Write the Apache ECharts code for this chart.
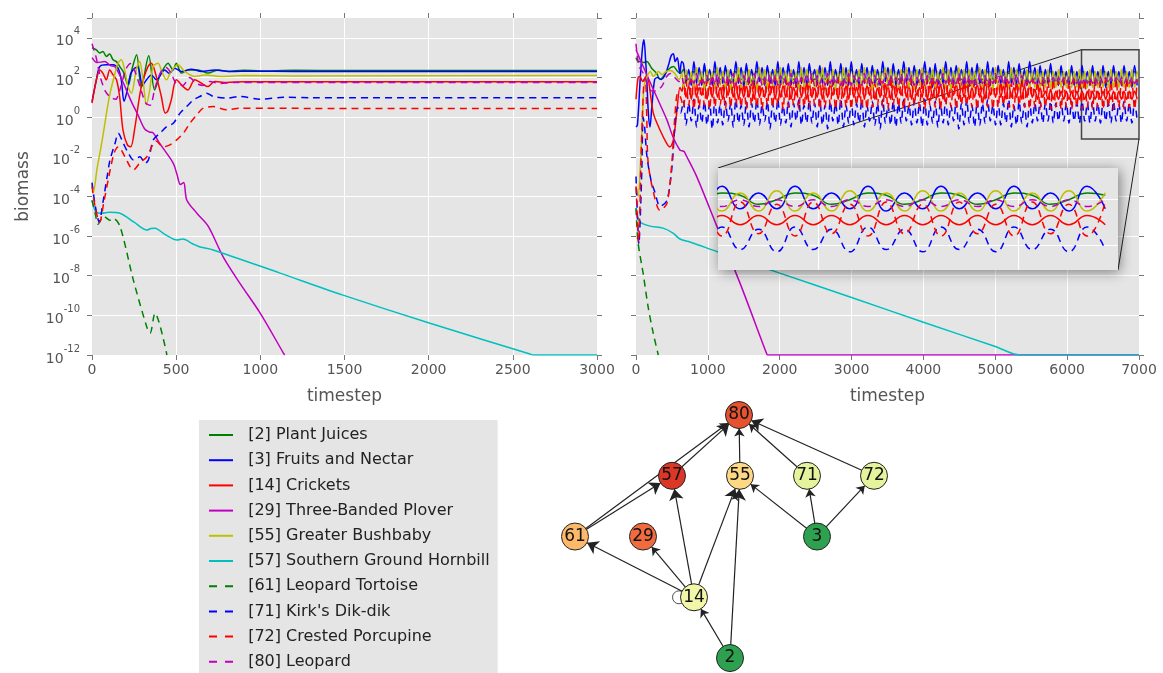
<!DOCTYPE html>
<html>
<head>
<meta charset="utf-8">
<script src="https://cdn.jsdelivr.net/npm/echarts@6/dist/echarts.min.js"></script>
<style>
  html, body { margin: 0; padding: 0; background: #fff; }
  #chart { width: 1163px; height: 673px; }
</style>
</head>
<body>
<div id="chart"></div>
<script>
// species, in legend order
const names = ['[2] Plant Juices', '[3] Fruits and Nectar', '[14] Crickets', '[29] Three-Banded Plover',
  '[55] Greater Bushbaby', '[57] Southern Ground Hornbill', '[61] Leopard Tortoise', "[71] Kirk's Dik-dik",
  '[72] Crested Porcupine', '[80] Leopard'];
const colors = ['#008000', '#0000ff', '#ff0000', '#bf00bf', '#bfbf00', '#00bfbf', '#008000', '#0000ff', '#ff0000', '#bf00bf'];
const dashed = [false, false, false, false, false, false, true, true, true, true];

// biomass values are log10 exponents, [timestep, log10(biomass)]
// ---- left run, 0..3000
const lGreen = [[0,3.5],[26,3.39],[46,3.23],[65,3.31],[85,3.06],[105,3.19],[125,2.89],[145,2.8],[165,2.55],[185,2.3],[215,1.6],[240,2.5],[265,3.14],[293,1.5],[337,3.09],[372,1.37],[402,2.05],[452,2.72],[481,2.38],[501,2.72],[531,2.22],[570,2.38],[630,2.38],[689,2.22],[749,2.38],[808,2.3],[900,2.37],[1000,2.33],[1200,2.36],[1500,2.35],[3000,2.35]];
const lBlue = [[0,0.78],[26,1.88],[46,2.55],[85,2.64],[125,2.64],[155,2.47],[174,1.88],[190,0.8],[205,1.2],[230,2.2],[254,2.47],[273,2.52],[300,1.6],[325,1.9],[353,2.13],[382,1.88],[432,2.38],[460,2.2],[491,2.47],[531,2.3],[590,2.42],[650,2.3],[729,2.38],[820,2.3],[950,2.32],[1200,2.3],[3000,2.3]];
const lRed = [[0,0.7],[26,1.88],[46,2.38],[65,2.21],[85,1.88],[105,2.38],[125,2.13],[145,1.9],[164,1.04],[184,-0.65],[210,-1.4],[230,-1.5],[255,-0.5],[293,1.54],[333,2.55],[353,2.72],[382,2.05],[412,1.04],[435,0.2],[450,0.3],[471,0.87],[501,1.88],[541,1.54],[570,1.37],[610,1.88],[650,1.71],[689,1.54],[729,1.8],[800,1.75],[900,1.79],[1100,1.78],[3000,1.78]];
const lPlover = [[0,3.0],[30,2.75],[75,2.8],[110,2.6],[135,2.55],[174,1.96],[204,1.37],[234,0.78],[273,0.11],[313,-0.6],[340,-0.75],[364,-0.8],[400,-1.3],[483,-2.33],[505,-2.9],[525,-3.4],[545,-3.3],[563,-4.18],[623,-4.85],[690,-5.5],[780,-7.06],[880,-8.4],[1000,-9.9],[1137,-11.9],[1145,-12.0]];
const lYellow = [[0,-3.4],[8,-3.8],[30,-2.6],[60,-1.2],[100,0.9],[130,2.0],[155,2.72],[174,2.89],[194,2.38],[214,1.54],[234,1.2],[263,2.38],[283,2.8],[303,1.88],[323,0.62],[343,1.37],[363,2.55],[392,2.72],[415,2.3],[442,1.88],[470,2.3],[511,2.64],[551,2.3],[610,2.05],[670,2.13],[769,2.05],[900,2.1],[1200,2.08],[3000,2.1]];
const lCyan = [[0,-4.2],[25,-4.8],[60,-4.85],[100,-4.8],[166,-4.85],[250,-5.3],[326,-5.7],[350,-5.62],[374,-5.6],[430,-5.9],[505,-6.2],[540,-6.15],[600,-6.4],[642,-6.55],[720,-6.7],[1117,-7.87],[1491,-8.98],[2008,-10.4],[2602,-11.95],[2620,-12],[3000,-12]];
const lTortoise = [[0,-4.2],[20,-4.9],[36,-5.4],[70,-5.0],[107,-5.2],[125,-5.1],[166,-5.5],[245,-8.2],[326,-10.6],[345,-10.9],[374,-9.9],[445,-12]];
const lDikdik = [[0,-3.3],[20,-4.5],[43,-5.3],[65,-4.3],[90,-3.0],[107,-2.16],[137,-1.32],[156,-0.81],[186,-1.32],[216,-1.82],[246,-2.16],[285,-2.0],[315,-2.33],[335,-2.16],[364,-1.15],[404,-0.81],[444,-0.48],[483,-0.31],[523,0.2],[562,0.53],[602,0.87],[641,1.04],[681,1.2],[721,1.04],[800,0.96],[879,1.04],[998,0.9],[1137,1.0],[1300,0.98],[3000,0.98]];
const lPorcupine = [[0,-3.5],[20,-4.6],[45,-5.3],[70,-4.3],[100,-3.0],[125,-2.0],[139,-1.66],[156,-1.5],[196,-2.0],[226,-2.5],[246,-2.66],[285,-2.3],[326,-2.0],[355,-1.49],[380,-1.2],[424,-1.5],[463,-1.4],[503,-1.15],[543,-0.81],[582,-0.31],[622,0.11],[661,0.45],[721,0.53],[800,0.37],[879,0.45],[1037,0.45],[1300,0.44],[3000,0.44]];
const lLeopard = [[0,3.7],[25,3.0],[50,2.0],[80,1.3],[110,1.0],[140,0.9],[170,1.5],[200,2.4],[230,2.7],[260,2.2],[290,1.4],[320,0.7],[345,0.6],[375,1.5],[410,2.3],[440,2.5],[470,2.2],[500,1.7],[540,1.6],[580,2.0],[620,1.7],[660,1.6],[700,1.8],[760,1.7],[850,1.75],[1000,1.74],[3000,1.74]];

// ---- right run, 0..7000: start-up part
const rGreen = [[0,3.0],[30,2.8],[70,2.8],[110,2.75],[150,2.8],[218,2.47],[288,2.2],[334,1.9],[380,2.05],[450,2.4],[520,2.55],[580,2.3],[620,2.2]];
const rBlue = [[0,-0.5],[20,-0.4],[60,2.0],[90,3.5],[111,3.9],[135,2.8],[150,1.9],[172,0.2],[195,-0.5],[220,0.5],[260,1.9],[300,2.0],[350,1.9],[400,2.1],[450,2.6],[490,3.1],[520,3.2],[545,2.8],[575,3.0],[610,2.2],[635,2.8]];
const rRed = [[0,0.9],[30,2.0],[56,2.05],[90,1.8],[148,2.1],[241,0.2],[334,-0.65],[427,-1.32],[473,-1.5],[520,-1.15],[566,0.2],[612,1.5],[640,1.3]];
const rPlover = [[0,3.4],[100,2.55],[290,1.0],[430,-0.14],[515,-1.0],[610,-1.66],[640,-1.7],[670,-1.74],[700,-1.95],[845,-3.0],[1125,-5.5],[1450,-8.4],[1820,-11.95],[1830,-12],[7000,-12]];
const rYellow = [[0,-3.5],[30,-4.0],[60,-2.5],[90,0.0],[110,1.5],[150,2.0],[200,2.3],[241,2.05],[280,2.2],[311,2.3],[360,2.15],[420,2.3],[480,2.35],[540,2.2],[600,1.9],[640,2.2]];
const rCyan = [[0,-4.6],[20,-5.0],[56,-5.3],[195,-5.5],[376,-5.6],[515,-5.85],[612,-6.15],[751,-6.3],[1141,-6.8],[2000,-7.87],[3000,-9.1],[4000,-10.35],[5000,-11.57],[5344,-12],[7000,-12]];
const rTortoise = [[0,-4.6],[28,-6.3],[100,-7.9],[170,-9.6],[240,-10.9],[310,-12]];
const rDikdik = [[0,-3.0],[20,-5.0],[40,-6.4],[60,-5.0],[80,-2.8],[100,0.0],[120,-0.5],[153,-2.0],[210,-3.2],[264,-3.8],[334,-4.5],[431,-4.2],[501,-2.5],[540,-0.5],[580,0.5],[620,0.2]];
const rPorcupine = [[0,-3.5],[20,-5.2],[35,-6.3],[55,-4.5],[70,-2.0],[110,1.8],[130,2.0],[150,0.0],[167,-2.2],[237,-3.7],[334,-4.7],[431,-4.35],[501,-2.2],[540,0.0],[580,1.2],[620,1.0]];
const rLeopard = [[0,3.7],[40,2.6],[102,2.2],[195,1.37],[250,1.3],[300,1.4],[357,1.54],[427,2.05],[480,2.2],[540,2.0],[600,1.8],[640,2.0]];

// ---- right run, oscillating regime: one value every bandStep timesteps from bandT0
const bandT0 = 660, bandStep = 36.5;
const bandGreen = [
  2.4,2.2,1.9,2.1,2.3,2.2,1.8,2.0,2.4,2.1,1.9,2.1, 2.3,2.2,1.9,2.0,2.4,2.2,1.8,2.1,2.3,2.1,1.9,2.0,
  2.4,2.2,1.8,2.1,2.3,2.2,1.9,2.0,2.4,2.1,1.8,2.1, 2.3,2.2,1.9,2.1,2.4,2.1,1.9,2.0,2.3,2.2,1.8,2.1,
  2.4,2.2,1.9,2.0,2.3,2.1,1.9,2.1,2.4,2.2,1.8,2.0, 2.3,2.2,1.9,2.1,2.4,2.1,1.8,2.1,2.3,2.2,1.9,2.0,
  2.4,2.1,1.9,2.1,2.3,2.2,1.8,2.0,2.4,2.2,1.9,2.1, 2.3,2.1,1.9,2.0,2.4,2.2,1.8,2.1,2.3,2.2,1.9,2.1,
  2.4,2.2,1.9,2.0,2.3,2.1,1.8,2.1,2.4,2.2,1.9,2.0, 2.3,2.2,1.8,2.1,2.4,2.1,1.9,2.0,2.3,2.2,1.9,2.1,
  2.4,2.1,1.8,2.0,2.3,2.2,1.9,2.1,2.4,2.2,1.8,2.0, 2.3,2.2,1.9,2.1,2.3,2.2,1.8,2.0,2.3,2.2,1.8,2.0,
  2.3,2.2,1.8,2.0,2.3,2.2,1.8,2.0,2.3,2.2,1.8,2.0, 2.3,2.2,1.8,2.0,2.3,2.2,1.8,2.0,2.3,2.2,1.8,2.0,
  2.3,2.2,1.8,2.0,2.3,2.2];
const bandBlue = [
  2.7,1.7,2.4,1.6,2.8,1.7,2.5,1.6,2.7,1.8,2.4,1.6, 2.8,1.6,2.5,1.7,2.6,1.6,2.4,1.7,2.8,1.7,2.5,1.5,
  2.7,1.7,2.4,1.6,2.8,1.8,2.5,1.6,2.6,1.7,2.4,1.6, 2.8,1.6,2.5,1.7,2.7,1.6,2.4,1.5,2.8,1.7,2.5,1.6,
  2.7,1.8,2.4,1.6,2.6,1.7,2.5,1.6,2.8,1.6,2.4,1.7, 2.7,1.6,2.5,1.6,2.8,1.7,2.4,1.5,2.7,1.7,2.5,1.6,
  2.6,1.7,2.4,1.6,2.8,1.8,2.5,1.6,2.7,1.6,2.4,1.7, 2.8,1.7,2.5,1.6,2.6,1.6,2.4,1.6,2.8,1.7,2.5,1.5,
  2.7,1.6,2.4,1.7,2.8,1.7,2.5,1.6,2.6,1.8,2.4,1.6, 2.8,1.6,2.5,1.6,2.7,1.7,2.4,1.6,2.8,1.6,2.5,1.7,
  2.6,1.7,2.4,1.5,2.8,1.7,2.5,1.6,2.7,1.6,2.4,1.6, 2.8,1.8,2.5,1.6,2.6,1.6,2.4,1.7,2.7,1.6,2.3,1.6,
  2.6,1.6,2.3,1.6,2.6,1.6,2.3,1.5,2.6,1.6,2.3,1.6, 2.6,1.6,2.3,1.6,2.6,1.5,2.3,1.6,2.6,1.6,2.3,1.6,
  2.6,1.6,2.3,1.5,2.6,1.6];
const bandRed = [
  1.7,1.0,1.6,0.9,1.8,1.0,1.5,1.1,1.7,0.9,1.6,1.0, 1.8,1.0,1.5,0.9,1.7,1.1,1.6,1.0,1.8,0.9,1.5,1.0,
  1.6,1.0,1.7,0.9,1.8,1.0,1.5,1.0,1.7,1.1,1.6,0.9, 1.8,1.0,1.6,1.0,1.7,0.9,1.5,1.1,1.8,1.0,1.6,0.9,
  1.7,1.0,1.5,1.0,1.8,0.9,1.6,1.0,1.7,1.1,1.5,0.9, 1.8,1.0,1.6,0.9,1.7,1.0,1.5,1.0,1.8,0.9,1.6,1.1,
  1.7,0.9,1.5,1.0,1.8,1.0,1.6,0.9,1.7,1.0,1.5,1.1, 1.8,1.0,1.6,0.9,1.7,1.1,1.5,1.0,1.8,0.9,1.6,1.0,
  1.6,1.0,1.7,0.9,1.8,1.0,1.5,1.1,1.7,0.9,1.6,1.0, 1.8,0.9,1.5,1.0,1.7,1.0,1.6,0.9,1.8,1.1,1.5,1.0,
  1.7,1.0,1.6,0.9,1.8,1.0,1.5,1.0,1.7,0.9,1.6,1.0, 1.6,1.0,1.4,0.9,1.5,1.0,1.3,0.9,1.4,0.9,1.3,0.9,
  1.3,0.9,1.3,0.9,1.3,0.9,1.3,0.9,1.3,0.9,1.3,0.9, 1.3,0.9,1.3,0.9,1.3,0.9,1.3,0.9,1.3,0.9,1.3,0.9,
  1.3,0.9,1.3,0.9,1.3,0.9];
const bandYellow = [
  1.5,2.4,1.6,2.3,1.5,2.5,1.6,2.3,1.4,2.4,1.6,2.3, 1.5,2.5,1.6,2.3,1.5,2.4,1.4,2.3,1.6,2.5,1.5,2.3,
  1.6,2.4,1.5,2.3,1.4,2.5,1.6,2.4,1.5,2.3,1.6,2.4, 1.5,2.5,1.6,2.3,1.5,2.4,1.6,2.3,1.4,2.5,1.5,2.4,
  1.6,2.3,1.5,2.4,1.6,2.5,1.5,2.3,1.6,2.4,1.4,2.3, 1.5,2.5,1.6,2.4,1.5,2.3,1.6,2.4,1.5,2.5,1.6,2.3,
  1.4,2.4,1.5,2.3,1.6,2.5,1.5,2.4,1.6,2.3,1.5,2.4, 1.6,2.5,1.5,2.3,1.4,2.4,1.6,2.5,1.5,2.3,1.6,2.4,
  1.5,2.3,1.6,2.5,1.5,2.4,1.4,2.3,1.6,2.5,1.5,2.4, 1.6,2.4,1.5,2.3,1.6,2.5,1.5,2.4,1.6,2.3,1.4,2.5,
  1.5,2.4,1.6,2.3,1.5,2.5,1.6,2.4,1.5,2.3,1.6,2.4, 1.5,2.3,1.5,2.4,1.5,2.3,1.5,2.4,1.5,2.3,1.5,2.4,
  1.5,2.3,1.5,2.4,1.5,2.3,1.5,2.4,1.5,2.3,1.5,2.4, 1.5,2.3,1.5,2.4,1.5,2.3,1.5,2.4,1.5,2.3,1.5,2.4,
  1.5,2.3,1.5,2.4,1.5,2.3];
const bandDikdik = [
  0.8,-0.4,0.7,-0.2,0.9,-0.5,0.6,-0.3,0.8,-0.4,0.7,-0.6, 0.9,-0.3,0.6,-0.4,0.8,-0.2,0.7,-0.5,0.9,-0.3,0.6,-0.4,
  0.8,-0.5,0.7,-0.3,0.9,-0.4,0.6,-0.2,0.8,-0.6,0.7,-0.3, 0.9,-0.4,0.6,-0.3,0.8,-0.5,0.7,-0.2,0.9,-0.4,0.6,-0.3,
  0.8,-0.3,0.7,-0.5,0.9,-0.4,0.6,-0.6,0.8,-0.2,0.7,-0.4, 0.9,-0.5,0.6,-0.3,0.8,-0.4,0.7,-0.3,0.9,-0.5,0.6,-0.2,
  0.8,-0.4,0.7,-0.6,0.9,-0.3,0.6,-0.4,0.8,-0.5,0.7,-0.3, 0.9,-0.2,0.6,-0.4,0.8,-0.3,0.7,-0.5,0.9,-0.4,0.6,-0.3,
  0.8,-0.5,0.7,-0.3,0.9,-0.4,0.6,-0.2,0.8,-0.6,0.7,-0.4, 0.9,-0.3,0.6,-0.5,0.8,-0.4,0.7,-0.3,0.9,-0.2,0.6,-0.4,
  0.8,-0.4,0.7,-0.3,0.9,-0.5,0.6,-0.4,0.8,-0.3,0.7,-0.5, 0.8,-0.3,0.7,-0.2,0.8,-0.3,0.7,-0.2,0.8,-0.3,0.7,-0.2,
  0.8,-0.2,0.7,-0.3,0.8,-0.2,0.7,-0.3,0.8,-0.2,0.7,-0.3, 0.8,-0.2,0.7,-0.3,0.8,-0.2,0.7,-0.3,0.8,-0.2,0.7,-0.3,
  0.8,-0.2,0.7,-0.3,0.8,-0.2];
const bandPorcupine = [
  0.5,1.8,0.6,1.9,0.4,1.7,0.5,1.9,0.6,1.8,0.4,2.0, 0.5,1.8,0.6,1.7,0.4,1.9,0.5,1.8,0.6,2.0,0.5,1.7,
  0.4,1.9,0.6,1.8,0.5,1.7,0.4,1.9,0.6,1.8,0.5,2.0, 0.6,1.7,0.4,1.9,0.5,1.8,0.6,1.7,0.4,2.0,0.5,1.8,
  0.5,1.9,0.6,1.8,0.4,1.7,0.5,1.9,0.6,1.8,0.4,1.9, 0.6,1.8,0.5,2.0,0.4,1.7,0.6,1.8,0.5,1.9,0.4,1.8,
  0.5,1.7,0.6,1.9,0.5,1.8,0.4,2.0,0.6,1.7,0.5,1.9, 0.4,1.8,0.5,1.9,0.6,1.7,0.5,1.8,0.4,1.9,0.6,2.0,
  0.5,1.8,0.4,1.7,0.6,1.9,0.5,1.8,0.4,2.0,0.6,1.8, 0.6,1.9,0.5,1.8,0.4,1.7,0.6,1.9,0.5,1.8,0.4,1.9,
  0.5,1.8,0.6,1.9,0.5,1.7,0.4,1.8,0.6,1.9,0.5,1.8, 0.4,1.9,0.5,1.8,0.4,1.9,0.5,1.8,0.4,1.9,0.5,1.8,
  0.4,1.9,0.5,1.8,0.4,1.9,0.5,1.8,0.4,1.9,0.5,1.8, 0.4,1.9,0.5,1.8,0.4,1.9,0.5,1.8,0.4,1.9,0.5,1.8,
  0.4,1.9,0.5,1.8,0.4,1.9];
const bandLeopard = [
  1.7,2.1,1.6,2.0,1.7,2.2,1.6,2.0,1.7,2.1,1.6,2.1, 1.6,2.2,1.7,2.0,1.6,2.1,1.7,2.2,1.6,2.0,1.7,2.1,
  1.7,2.0,1.6,2.2,1.7,2.1,1.6,2.0,1.7,2.2,1.6,2.1, 1.6,2.1,1.7,2.0,1.6,2.2,1.7,2.1,1.6,2.0,1.7,2.2,
  1.7,2.2,1.6,2.1,1.7,2.0,1.6,2.2,1.7,2.1,1.6,2.0, 1.6,2.0,1.7,2.2,1.6,2.1,1.7,2.0,1.6,2.2,1.7,2.1,
  1.7,2.1,1.6,2.0,1.7,2.2,1.6,2.1,1.7,2.0,1.6,2.2, 1.6,2.2,1.7,2.1,1.6,2.0,1.7,2.2,1.6,2.1,1.7,2.0,
  1.7,2.0,1.6,2.2,1.7,2.1,1.6,2.0,1.7,2.2,1.6,2.1, 1.6,2.1,1.7,2.0,1.6,2.2,1.7,2.1,1.6,2.0,1.7,2.2,
  1.7,2.2,1.6,2.1,1.7,2.0,1.6,2.2,1.7,2.1,1.6,2.0, 1.7,2.0,1.7,2.0,1.7,2.0,1.7,2.0,1.7,2.0,1.7,2.0,
  1.7,2.0,1.7,2.0,1.7,2.0,1.7,2.0,1.7,2.0,1.7,2.0, 1.7,2.0,1.7,2.0,1.7,2.0,1.7,2.0,1.7,2.0,1.7,2.0,
  1.7,2.0,1.7,2.0,1.7,2.0];

// zoomed window of the right run
const insetT = [6200, 7000];
const insetE = [-1.1, 3.4];

// food web
const nodeIds = [2, 3, 14, 29, 55, 57, 61, 71, 72, 80];
const nodeCol = [190, 277, 154, 103, 200, 132, 35, 267, 334, 199];
const nodeRow = [4, 2, 3, 2, 1, 1, 2, 1, 1, 0];
const nodeColor = ['#2ea151', '#2ea151', '#f2f6a9', '#f06c3f', '#fed884', '#da3726', '#fdb96a', '#e4f39c', '#e4f39c', '#e6522f'];
// [prey, predator, strong]
const feeds = [[2,14,0],[2,55,1],[14,61,1],[14,29,0],[14,57,1],[14,55,1],[3,55,0],[3,71,0],[3,72,0],
  [61,57,1],[61,80,0],[57,80,1],[55,80,0],[71,80,0],[72,80,1]];

const leftData = [lGreen, lBlue, lRed, lPlover, lYellow, lCyan, lTortoise, lDikdik, lPorcupine, lLeopard];
const rightStart = [rGreen, rBlue, rRed, rPlover, rYellow, rCyan, rTortoise, rDikdik, rPorcupine, rLeopard];
const rightBand = [bandGreen, bandBlue, bandRed, null, bandYellow, null, null, bandDikdik, bandPorcupine, bandLeopard];

const FONT = 'DejaVu Sans';
const GREY = '#555';
const insetBox = { left: 718, top: 168, width: 400, height: 102 };

function bandPairs(band) {
  return band ? band.map((e, i) => [bandT0 + i * bandStep, e]) : [];
}

const tick = { show: true, inside: false, length: 5, lineStyle: { color: '#777', width: 1 } };
const split = { show: true, showMinLine: false, showMaxLine: false, lineStyle: { color: '#fff', width: 1 } };
const noLine = { show: false, onZero: false };

function xAxes(grid, max, interval) {
  return [
    { gridIndex: grid, type: 'value', min: 0, max: max, interval: interval, position: 'bottom',
      axisLine: noLine, axisTick: tick, splitLine: split,
      axisLabel: { color: GREY, fontSize: 14, margin: 8, fontFamily: FONT, formatter: v => String(v) },
      name: 'timestep', nameLocation: 'middle', nameGap: 33,
      nameTextStyle: { color: GREY, fontSize: 17, fontFamily: FONT } },
    { gridIndex: grid, type: 'value', min: 0, max: max, interval: interval, position: 'top',
      axisLine: noLine, axisTick: tick, splitLine: { show: false }, axisLabel: { show: false } }
  ];
}
function yAxes(grid, labels) {
  const lab = labels ? {
    color: GREY, margin: 12, fontFamily: FONT,
    formatter: v => (v % 2 === 0 && v <= 4) ? '{b|10}{s|' + v + '}' : '',
    rich: {
      b: { fontSize: 14, color: GREY, lineHeight: 22, verticalAlign: 'bottom', fontFamily: FONT },
      s: { fontSize: 10, color: GREY, lineHeight: 12, verticalAlign: 'top', fontFamily: FONT }
    }
  } : { show: false };
  const main = { gridIndex: grid, type: 'value', min: -12, max: 5, interval: 2, position: 'left',
    axisLine: noLine, axisTick: tick, splitLine: split, axisLabel: lab };
  if (labels) {
    Object.assign(main, { name: 'biomass', nameLocation: 'middle', nameGap: 60, nameRotate: 90,
      nameTextStyle: { color: GREY, fontSize: 17, fontFamily: FONT } });
  }
  return [main,
    { gridIndex: grid, type: 'value', min: -12, max: 5, interval: 2, position: 'right',
      axisLine: noLine, axisTick: tick, splitLine: { show: false }, axisLabel: { show: false } }];
}

const series = [];
names.forEach((name, k) => {
  const base = {
    name: name, type: 'line', symbol: 'none', showSymbol: false, smooth: 0.3,
    lineStyle: { color: colors[k], width: 1.5, type: dashed[k] ? [7, 5] : 'solid' },
    itemStyle: { color: colors[k] }
  };
  series.push(Object.assign({}, base, { xAxisIndex: 0, yAxisIndex: 0, data: leftData[k] }));
  series.push(Object.assign({}, base, { xAxisIndex: 2, yAxisIndex: 2,
    data: rightStart[k].concat(bandPairs(rightBand[k])) }));
  if (rightBand[k]) {
    series.push(Object.assign({}, base, { xAxisIndex: 4, yAxisIndex: 4, z: 7, smooth: 0.5,
      data: bandPairs(rightBand[k]) }));
  }
});

const idx = id => nodeIds.indexOf(id);
series.push({
  name: 'selfloop', type: 'scatter', xAxisIndex: 5, yAxisIndex: 5, z: 2,
  symbol: 'circle', symbolSize: 13, symbolOffset: [-15, 0],
  itemStyle: { color: 'rgba(0,0,0,0)', borderColor: '#222', borderWidth: 1 },
  data: [[nodeCol[idx(14)], nodeRow[idx(14)]]]
});
series.push({
  name: 'foodweb', type: 'graph', layout: 'none', coordinateSystem: 'cartesian2d',
  xAxisIndex: 5, yAxisIndex: 5, z: 3, symbolSize: 27,
  edgeSymbol: ['none', 'arrow'], edgeSymbolSize: [0, 8],
  lineStyle: { color: '#222', width: 1.2, opacity: 1 },
  label: { show: true, position: 'inside', color: '#111', fontSize: 17, fontFamily: FONT },
  itemStyle: { borderColor: '#222', borderWidth: 1 },
  data: nodeIds.map((id, i) => ({ name: String(id), value: [nodeCol[i], nodeRow[i]],
    itemStyle: { color: nodeColor[i], borderColor: '#222', borderWidth: 1 } })),
  links: feeds.map(f => ({ source: idx(f[0]), target: idx(f[1]), symbolSize: [0, f[2] ? 11 : 8] }))
});

const chart = echarts.init(document.getElementById('chart'));
chart.setOption({
  animation: false,
  textStyle: { fontFamily: FONT },
  grid: [
    { left: 92, top: 18, width: 505, height: 337, show: true, backgroundColor: '#e5e5e5', borderWidth: 0 },
    { left: 636, top: 18, width: 503, height: 337, show: true, backgroundColor: '#e5e5e5', borderWidth: 0 },
    Object.assign({ show: true, backgroundColor: '#e5e5e5', borderWidth: 0, z: 5,
      shadowBlur: 12, shadowColor: 'rgba(0,0,0,0.45)', shadowOffsetX: 2, shadowOffsetY: 2 }, insetBox),
    { left: 540, top: 396.8, width: 370, height: 273.4, show: false }
  ],
  xAxis: xAxes(0, 3000, 500).concat(xAxes(1, 7000, 1000)).concat([
    { gridIndex: 2, type: 'value', min: insetT[0], max: insetT[1], interval: 200, z: 6,
      axisLine: noLine, axisTick: { show: false }, axisLabel: { show: false }, splitLine: split },
    { gridIndex: 3, type: 'value', min: 0, max: 370, show: false }
  ]),
  yAxis: yAxes(0, true).concat(yAxes(1, false)).concat([
    { gridIndex: 2, type: 'value', min: insetE[0], max: insetE[1], splitNumber: 2, minInterval: 2, maxInterval: 2, z: 6,
      axisLine: noLine, axisTick: { show: false }, axisLabel: { show: false }, splitLine: split },
    { gridIndex: 3, type: 'value', min: -0.3, max: 4.2, inverse: true, show: false }
  ]),
  legend: {
    data: names.map((n, k) => dashed[k] ? { name: n, lineStyle: { type: [8, 8] } } : { name: n }),
    orient: 'vertical', left: 199, top: 420, height: 300, selectedMode: false,
    backgroundColor: '#e5e5e5', padding: [7, 8, 8, 9], itemGap: 9.2, itemWidth: 24, itemHeight: 16,
    itemStyle: { opacity: 0 },
    formatter: n => '  ' + n,
    textStyle: { color: '#222', fontSize: 16, lineHeight: 16, fontFamily: FONT }
  },
  series: series
});

// zoom box on the right run and its connectors to the inset
const p1 = chart.convertToPixel({ xAxisIndex: 2, yAxisIndex: 2 }, [insetT[0], insetE[1]]);
const p2 = chart.convertToPixel({ xAxisIndex: 2, yAxisIndex: 2 }, [insetT[1], insetE[0]]);
chart.setOption({
  graphic: [
    { type: 'rect', z: 3, silent: true, shape: { x: p1[0], y: p1[1], width: p2[0] - p1[0], height: p2[1] - p1[1] },
      style: { fill: null, stroke: '#444', lineWidth: 1.5 } },
    { type: 'line', z: 3, silent: true, shape: { x1: p1[0], y1: p1[1], x2: insetBox.left, y2: insetBox.top },
      style: { stroke: '#222', lineWidth: 1 } },
    { type: 'line', z: 3, silent: true,
      shape: { x1: p2[0], y1: p2[1], x2: insetBox.left + insetBox.width, y2: insetBox.top + insetBox.height },
      style: { stroke: '#222', lineWidth: 1 } }
  ]
});
</script>
</body>
</html>
